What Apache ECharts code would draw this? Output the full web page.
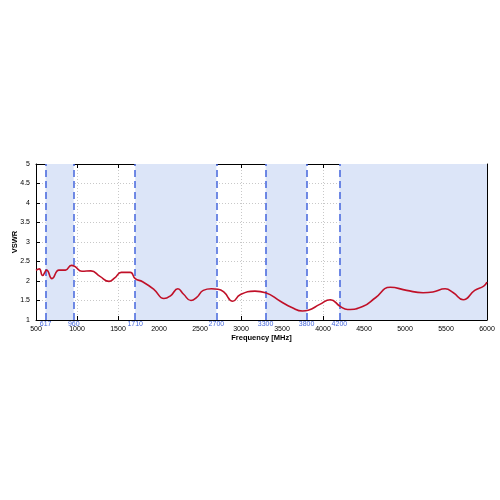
<!DOCTYPE html>
<html><head><meta charset="utf-8">
<script src="https://cdn.jsdelivr.net/npm/echarts@6/dist/echarts.min.js"></script>
<style>html,body{margin:0;padding:0;background:#fff}#c{width:500px;height:500px}</style>
</head><body><div id="c"></div>
<script>
const freq = [500,540,580,630,695,780,860,930,970,1060,1170,1280,1390,1460,1540,1650,1710,1800,1940,2060,2140,2230,2300,2390,2460,2540,2640,2720,2790,2900,2990,3170,3300,3480,3620,3750,3820,3960,4090,4210,4300,4490,4640,4820,5020,5220,5340,5490,5590,5710,5850,5960,6000];
const vswr = [2.27,2.31,2.14,2.28,2.06,2.28,2.28,2.40,2.38,2.25,2.26,2.12,1.99,2.08,2.22,2.22,2.06,1.98,1.78,1.55,1.62,1.80,1.66,1.50,1.58,1.76,1.80,1.79,1.72,1.48,1.65,1.74,1.70,1.48,1.32,1.23,1.25,1.40,1.52,1.35,1.27,1.35,1.57,1.84,1.76,1.70,1.72,1.80,1.70,1.52,1.76,1.87,1.97];
const bands = [[617,960],[1710,2700],[3300,3800],[4200,6000]];
const bandEdges = [617,960,1710,2700,3300,3800,4200];
const edgeLabelsOnly = [6000];
const xMin = 500, xMax = 6000, xStep = 500;
const yMin = 1, yMax = 5, yStep = 0.5;

const font = 'Liberation Sans, Arial, sans-serif';
const chart = echarts.init(document.getElementById('c'));
const data = freq.map((f,i)=>[f,vswr[i]]);
const edgeLine = {color:'#4466dd', width:1.5, type:[7,4]};
chart.setOption({
  animation:false,
  grid:{left:36, right:13, top:164, bottom:180, containLabel:false, outerBoundsMode:'none'},
  xAxis:[{
    type:'value', min:xMin, max:xMax, interval:xStep, position:'bottom',
    name:'Frequency [MHz]', nameLocation:'middle', nameGap:14,
    nameTextStyle:{fontFamily:font, fontSize:7.5, fontWeight:'bold', color:'#000'},
    axisLine:{show:true, onZero:false, lineStyle:{color:'#000', width:1}},
    axisTick:{show:true, inside:true, length:4, lineStyle:{color:'#000'}},
    axisLabel:{fontFamily:font, fontSize:7, color:'#000', margin:6, formatter:v=>String(v)},
    splitLine:{show:true, lineStyle:{color:'#c8c8c8', type:[1,2], width:1}}
  },{
    type:'value', min:xMin, max:xMax, interval:xStep, position:'top',
    axisLine:{show:true, onZero:false, lineStyle:{color:'#000', width:1}},
    axisTick:{show:true, inside:true, length:4, lineStyle:{color:'#000'}},
    axisLabel:{show:false}, splitLine:{show:false}
  }],
  yAxis:[{
    type:'value', min:yMin, max:yMax, interval:yStep, position:'left',
    name:'VSWR', nameLocation:'middle', nameGap:17, nameRotate:90, nameMoveOverlap:false,
    nameTextStyle:{fontFamily:font, fontSize:7.5, fontWeight:'bold', color:'#000'},
    axisLine:{show:true, onZero:false, lineStyle:{color:'#000', width:1}},
    axisTick:{show:true, inside:true, length:4, lineStyle:{color:'#000'}},
    axisLabel:{fontFamily:font, fontSize:7, color:'#000', margin:6, formatter:v=>String(v)},
    splitLine:{show:true, lineStyle:{color:'#c8c8c8', type:[1,2], width:1}}
  },{
    type:'value', min:yMin, max:yMax, interval:yStep, position:'right',
    axisLine:{show:true, onZero:false, lineStyle:{color:'#000', width:1}},
    axisTick:{show:true, inside:true, length:4, lineStyle:{color:'#000'}},
    axisLabel:{show:false}, splitLine:{show:false}
  }],
  series:[{
    type:'line', data:data, smooth:0.5, symbol:'none',
    lineStyle:{color:'#c01028', width:1.6},
    z:5,
    markArea:{
      silent:true,
      itemStyle:{color:'#dce5f8'},
      data: bands.map(b=>[{xAxis:b[0]},{xAxis:b[1]}])
    },
    markLine:{
      silent:true, symbol:['none','none'],
      label:{show:true, position:'start', distance:1, formatter:p=>String(p.value), fontFamily:font, fontSize:7, color:'#4466dd'},
      data: bandEdges.map(v=>({xAxis:v, lineStyle:edgeLine})).concat(
        edgeLabelsOnly.map(v=>({xAxis:v, lineStyle:{opacity:0}})))
    }
  }]
});
</script></body></html>
